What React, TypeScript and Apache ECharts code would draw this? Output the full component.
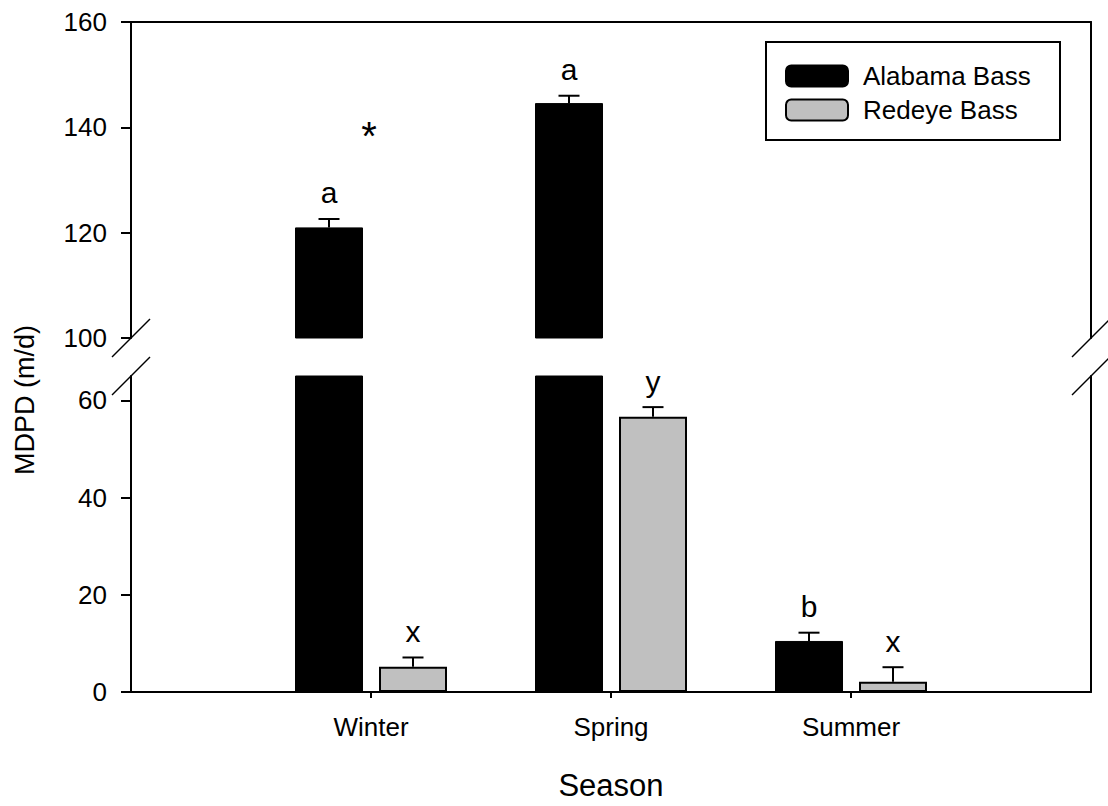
import React, { useEffect, useRef } from "react";
import * as echarts from "echarts";

// ---- data ----
const seasons = ["Winter", "Spring", "Summer"];
const alabamaMean = [121.0, 144.6, 10.5];
const alabamaSE = [1.6, 1.4, 1.7];
const redeyeMean = [5.2, 56.6, 2.1];
const redeyeSE = [1.9, 2.0, 3.0];
const alabamaLetters = ["a", "a", "b"];
const redeyeLetters = ["x", "y", "x"];
const upperTicks = [100, 120, 140, 160];
const lowerTicks = [0, 20, 40, 60];
const starSeason = "Winter";
const starValue = 140;
const seriesNames = ["Alabama Bass", "Redeye Bass"];

// ---- style / layout constants ----
const FONT = "'Liberation Sans', Arial, Helvetica, sans-serif";
const BAR_W = 68;
const BAR_GAP_PX = 16;
const OFFSET = (BAR_W + BAR_GAP_PX) / 2;
const CAP = 21;
const LETTER_GAP = 26;
const GRAY = "#c0c0c0";

const cats = ["", ...seasons, ""];
const pad = (arr: number[]) => ["-", ...arr, "-"];

function errorRenderer(letters: string[], sign: number) {
  return (params: any, api: any) => {
    const cs = params.coordSys;
    const x = api.value(0);
    const m = api.value(1);
    const se = api.value(2);
    const base = api.coord([x, m]);
    const top = api.coord([x, m + se]);
    if (base[1] < cs.y - 0.5 || base[1] > cs.y + cs.height + 0.5) return null;
    const cx = base[0] + sign * OFFSET;
    const ls = { stroke: "#000", lineWidth: 2 };
    return {
      type: "group",
      children: [
        { type: "line", shape: { x1: cx, y1: base[1], x2: cx, y2: top[1] }, style: ls },
        { type: "line", shape: { x1: cx - CAP / 2, y1: top[1], x2: cx + CAP / 2, y2: top[1] }, style: ls },
        {
          type: "text",
          x: cx,
          y: top[1] - LETTER_GAP,
          style: {
            text: letters[params.dataIndex],
            fill: "#000",
            font: `30px ${FONT}`,
            align: "center",
            verticalAlign: "middle",
          },
        },
      ],
    };
  };
}

const errData = (mean: number[], se: number[]) => mean.map((v, i) => [i + 1, v, se[i]]);

export default function App() {
  const ref = useRef<HTMLDivElement>(null);
  useEffect(() => {
    if (!ref.current) return;
    const chart = echarts.init(ref.current, null, { renderer: "svg" });
    const axisLine = { show: true, onZero: false, lineStyle: { color: "#000", width: 2 } };
    const labelStyle = { color: "#000", fontSize: 26, fontFamily: FONT };

    const barSeries = (name: string, data: number[], xi: number, yi: number, fill: string, bw: number) => ({
      type: "bar",
      name,
      xAxisIndex: xi,
      yAxisIndex: yi,
      data: pad(data),
      barWidth: BAR_W,
      barGap: `${(BAR_GAP_PX / BAR_W) * 100}%`,
      itemStyle: { color: fill, borderColor: "#000", borderWidth: bw },
      clip: true,
      z: 2,
    });

    const errSeries = (name: string, mean: number[], se: number[], letters: string[], sign: number, xi: number, yi: number) => ({
      type: "custom",
      name,
      xAxisIndex: xi,
      yAxisIndex: yi,
      data: errData(mean, se),
      renderItem: errorRenderer(letters, sign),
      z: 3,
      silent: true,
    });

    const starIdx = seasons.indexOf(starSeason) + 1;

    const option: any = {
      animation: false,
      textStyle: { fontFamily: FONT },
      grid: [
        { left: 131, right: 17, top: 22, height: 316 },
        { left: 131, right: 17, top: 376, height: 316 },
      ],
      legend: {
        left: 785,
        top: 63,
        orient: "vertical",
        itemWidth: 62,
        itemHeight: 21,
        itemGap: 8,
        padding: 0,
        data: seriesNames,
        textStyle: { ...labelStyle, padding: [0, 0, 0, 10] },
      },
      xAxis: [
        {
          gridIndex: 0,
          type: "category",
          data: cats,
          boundaryGap: false,
          position: "top",
          axisLine,
          axisTick: { show: false },
          axisLabel: { show: false },
          splitLine: { show: false },
        },
        {
          gridIndex: 1,
          type: "category",
          data: cats,
          boundaryGap: false,
          position: "bottom",
          axisLine,
          axisTick: {
            show: true,
            interval: (i: number) => i >= 1 && i <= seasons.length,
            length: 6,
            lineStyle: { color: "#000", width: 2 },
          },
          axisLabel: { ...labelStyle, interval: 0, margin: 22 },
          splitLine: { show: false },
        },
      ],
      yAxis: [
        {
          gridIndex: 0,
          type: "value",
          min: upperTicks[0],
          max: upperTicks[upperTicks.length - 1],
          interval: 20,
          position: "left",
          axisLine,
          axisTick: { show: true, length: 10, lineStyle: { color: "#000", width: 2 } },
          axisLabel: { ...labelStyle, margin: 24 },
          splitLine: { show: false },
        },
        {
          gridIndex: 0,
          type: "value",
          min: upperTicks[0],
          max: upperTicks[upperTicks.length - 1],
          interval: 20,
          position: "right",
          axisLine,
          axisTick: { show: false },
          axisLabel: { show: false },
          splitLine: { show: false },
        },
        {
          gridIndex: 1,
          type: "value",
          min: 0,
          max: 65,
          interval: 20,
          position: "left",
          axisLine,
          axisTick: { show: true, length: 10, customValues: lowerTicks, lineStyle: { color: "#000", width: 2 } },
          axisLabel: { ...labelStyle, margin: 24, customValues: lowerTicks },
          splitLine: { show: false },
        },
        {
          gridIndex: 1,
          type: "value",
          min: 0,
          max: 65,
          interval: 20,
          position: "right",
          axisLine,
          axisTick: { show: false },
          axisLabel: { show: false },
          splitLine: { show: false },
        },
      ],
      series: [
        barSeries(seriesNames[0], alabamaMean, 0, 0, "#000", 1),
        barSeries(seriesNames[1], redeyeMean, 0, 0, GRAY, 2),
        barSeries(seriesNames[0], alabamaMean, 1, 2, "#000", 1),
        barSeries(seriesNames[1], redeyeMean, 1, 2, GRAY, 2),
        errSeries("Alabama Bass SE", alabamaMean, alabamaSE, alabamaLetters, -1, 0, 0),
        errSeries("Redeye Bass SE", redeyeMean, redeyeSE, redeyeLetters, 1, 0, 0),
        errSeries("Alabama Bass SE", alabamaMean, alabamaSE, alabamaLetters, -1, 1, 2),
        errSeries("Redeye Bass SE", redeyeMean, redeyeSE, redeyeLetters, 1, 1, 2),
        {
          type: "custom",
          name: "significance",
          xAxisIndex: 0,
          yAxisIndex: 0,
          data: [[starIdx, starValue]],
          z: 3,
          silent: true,
          renderItem: (params: any, api: any) => {
            const p = api.coord([api.value(0), api.value(1)]);
            return {
              type: "text",
              x: p[0] - 2,
              y: p[1] + 9,
              style: { text: "*", fill: "#000", font: `40px ${FONT}`, align: "center", verticalAlign: "middle" },
            };
          },
        },
      ],
      graphic: [
        {
          type: "rect",
          shape: { x: 766, y: 42, width: 294, height: 98 },
          style: { fill: "none", stroke: "#000", lineWidth: 2 },
          z: 0,
        },
        { type: "line", shape: { x1: 112, y1: 357, x2: 150, y2: 319 }, style: { stroke: "#000", lineWidth: 1.5 } },
        { type: "line", shape: { x1: 112, y1: 395, x2: 150, y2: 357 }, style: { stroke: "#000", lineWidth: 1.5 } },
        { type: "line", shape: { x1: 1072, y1: 357, x2: 1110, y2: 319 }, style: { stroke: "#000", lineWidth: 1.5 } },
        { type: "line", shape: { x1: 1072, y1: 395, x2: 1110, y2: 357 }, style: { stroke: "#000", lineWidth: 1.5 } },
        {
          type: "text",
          x: 25,
          y: 400,
          rotation: Math.PI / 2,
          style: { text: "MDPD (m/d)", fill: "#000", font: `27px ${FONT}`, align: "center", verticalAlign: "middle" },
        },
        {
          type: "text",
          x: 611,
          y: 785,
          style: { text: "Season", fill: "#000", font: `31px ${FONT}`, align: "center", verticalAlign: "middle" },
        },
      ],
    };
    chart.setOption(option);
    return () => chart.dispose();
  }, []);
  return <div ref={ref} style={{ position: "absolute", left: 0, top: 0, width: 1108, height: 806 }} />;
}
